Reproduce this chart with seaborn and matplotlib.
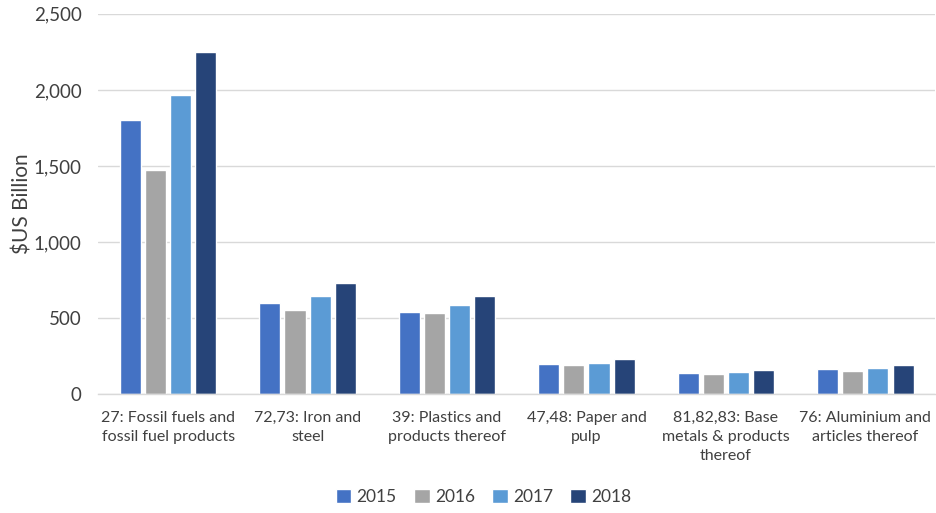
import matplotlib
matplotlib.use("Agg")
import matplotlib.pyplot as plt
import seaborn as sns
import pandas as pd

categories = [
    "27: Fossil fuels and\nfossil fuel products",
    "72,73: Iron and\nsteel",
    "39: Plastics and\nproducts thereof",
    "47,48: Paper and\npulp",
    "81,82,83: Base\nmetals & products\nthereof",
    "76: Aluminium and\narticles thereof",
]
years = ["2015", "2016", "2017", "2018"]
values_2015 = [1800, 600, 540, 197, 138, 162]
values_2016 = [1470, 553, 533, 193, 134, 153]
values_2017 = [1965, 645, 585, 206, 147, 171]
values_2018 = [2250, 730, 645, 228, 160, 191]
colors = ["#4472C4", "#A5A5A5", "#5B9BD5", "#264478"]

rows = []
for yr, vals in zip(years, [values_2015, values_2016, values_2017, values_2018]):
    for c, v in zip(categories, vals):
        rows.append({"category": c, "year": yr, "value": v})
df = pd.DataFrame(rows)

sns.set_theme(style="white")
plt.rcParams["font.family"] = ["Lato", "DejaVu Sans"]

fig = plt.figure(figsize=(9.37, 5.13), dpi=100)
ax = fig.add_axes([0.105, 0.232, 0.893, 0.741])

sns.barplot(data=df, x="category", y="value", hue="year", order=categories,
            hue_order=years, palette=colors, width=0.72, gap=0.16,
            saturation=1, ax=ax, legend=True)

ax.set_ylim(0, 2500)
ax.set_yticks([0, 500, 1000, 1500, 2000, 2500])
ax.set_yticklabels(["0", "500", "1,000", "1,500", "2,000", "2,500"])
ax.yaxis.grid(True, color="#D9D9D9", linewidth=1.0)
ax.set_axisbelow(True)
for s in ["top", "right", "left"]:
    ax.spines[s].set_visible(False)
ax.spines["bottom"].set_color("#D9D9D9")
ax.spines["bottom"].set_linewidth(1.0)
ax.tick_params(axis="y", length=0, labelsize=13.5, colors="#404040", pad=12)
ax.tick_params(axis="x", length=0, labelsize=11.5, colors="#404040", pad=12)
for t in ax.get_xticklabels():
    t.set_linespacing(1.45)
ax.set_xlabel("")
ax.set_ylabel("$US Billion", fontsize=15, color="#404040", labelpad=1)
ax.set_xlim(-0.5, 5.5)

handles, labels = ax.get_legend_handles_labels()
ax.legend_.remove()
fig.legend(handles, labels, loc="center", bbox_to_anchor=(0.516, 0.031), ncol=4,
           frameon=False, fontsize=12.5, handlelength=0.9, handleheight=0.9,
           handletextpad=0.3, columnspacing=1.0, labelcolor="#404040")

fig.savefig("out.png", dpi=100)
